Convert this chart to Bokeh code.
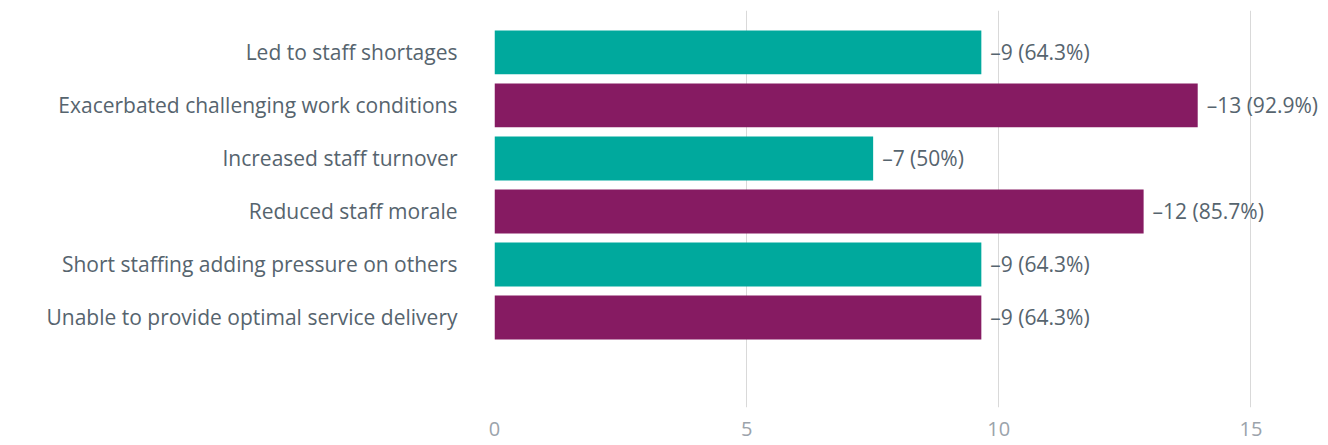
from bokeh.plotting import figure
from bokeh.models import Range1d, LinearAxis, FixedTicker, Grid, ColumnDataSource
from bokeh.core.properties import value
from bokeh.embed import file_html
from bokeh.resources import INLINE

categories = [
    "Led to staff shortages",
    "Exacerbated challenging work conditions",
    "Increased staff turnover",
    "Reduced staff morale",
    "Short staffing adding pressure on others",
    "Unable to provide optimal service delivery",
]
counts = [9, 13, 7, 12, 9, 9]
percents = [64.3, 92.9, 50, 85.7, 64.3, 64.3]
axis_ticks = [0, 5, 10, 15]

TEAL = "#00a99d"
PURPLE = "#861b62"
FONT = "Open Sans"

ys = list(range(1, len(categories) + 1))
colors = [TEAL if i % 2 == 0 else PURPLE for i in range(len(categories))]
labels = [f"\u2013{c} ({p:g}%)" for c, p in zip(counts, percents)]

src = ColumnDataSource(dict(y=ys, v=counts, color=colors, label=labels))

W, H = 1320, 441
p = figure(width=W, height=H, output_backend="svg", toolbar_location=None,
           x_range=Range1d(0, 15.27), y_range=Range1d(7.70, 0.21),
           x_axis_location=None, min_border_left=494, min_border_right=0,
           min_border_top=10, min_border_bottom=34)
p.outline_line_color = None
p.xgrid.grid_line_color = None
p.ygrid.grid_line_color = None

p.extra_x_ranges = {"axis": Range1d(0, 16.38)}
xaxis = LinearAxis(x_range_name="axis", ticker=FixedTicker(ticks=axis_ticks))
xaxis.axis_line_color = None
xaxis.major_tick_line_color = None
xaxis.minor_tick_line_color = None
xaxis.major_label_text_font = FONT
xaxis.major_label_text_font_size = "20px"
xaxis.major_label_text_color = "#9ba3ab"
xaxis.major_label_standoff = 8
p.add_layout(xaxis, "below")

grid = Grid(dimension=0, axis=xaxis, x_range_name="axis",
            grid_line_color="#d9d9d9", grid_line_width=1)
p.add_layout(grid)

yaxis = p.yaxis[0]
yaxis.ticker = FixedTicker(ticks=ys)
yaxis.major_label_overrides = {y: c for y, c in zip(ys, categories)}
yaxis.axis_line_color = None
yaxis.major_tick_line_color = None
yaxis.minor_tick_line_color = None
yaxis.major_label_text_font = FONT
yaxis.major_label_text_font_size = "21px"
yaxis.major_label_text_color = "#56646e"
yaxis.major_label_standoff = 31

p.hbar(y="y", right="v", left=0, height=0.83, color="color", source=src, line_color=None)
p.text(x="v", y="y", text="label", source=src, x_offset=9,
       text_baseline="middle", text_align="left",
       text_font=value(FONT), text_font_size="21px", text_color="#56646e")

open("out.html", "w").write(file_html(p, INLINE))
